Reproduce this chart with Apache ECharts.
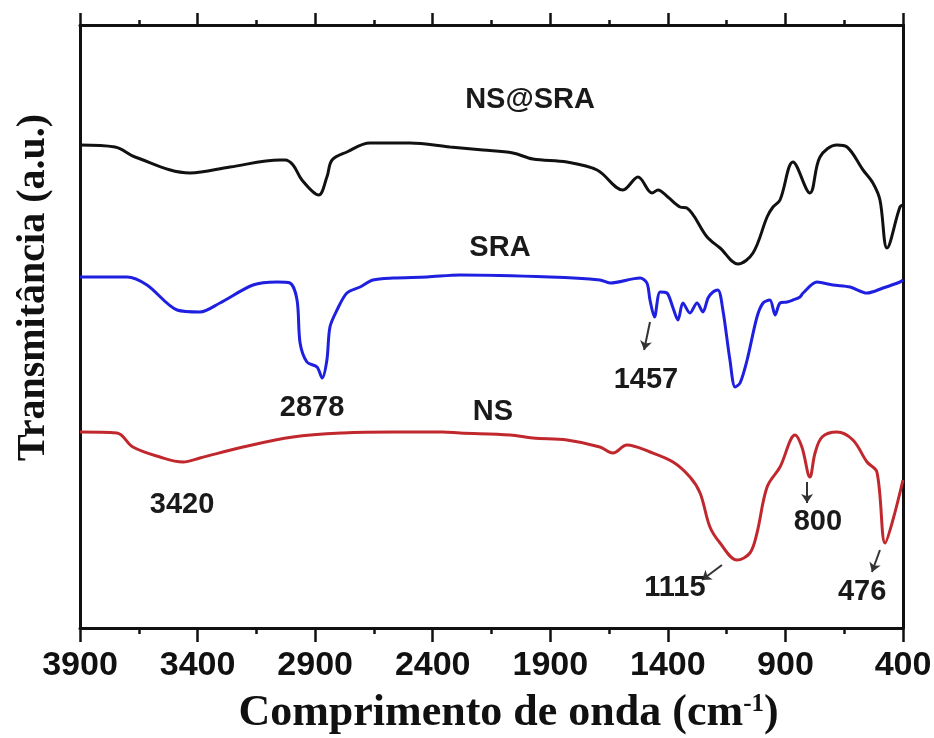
<!DOCTYPE html>
<html>
<head>
<meta charset="utf-8">
<script src="https://cdn.jsdelivr.net/npm/echarts@6/dist/echarts.min.js"></script>
<style>
  html, body { margin: 0; padding: 0; background: #fff; }
  #ftir { width: 934px; height: 738px; }
</style>
</head>
<body>
<div id="ftir"></div>
<script>
// espectros FTIR: [numero de onda (cm-1), transmitancia (u.a., deslocada)]
var nsSra = [
  [3900, 48.3], [3751, 48.1], [3666, 47.1], [3432, 45.5], [3262, 46.1], [3049, 46.8],
  [3028, 46.8], [2994, 46.3], [2956, 44.8], [2885, 43.3], [2850, 45.1], [2828, 46.8],
  [2765, 47.6], [2667, 48.5], [2497, 48.5], [2326, 48.1], [2186, 47.8], [2059, 47.5],
  [1974, 46.9], [1829, 46.6], [1701, 45.8], [1591, 43.8], [1527, 45.1], [1467, 43.5],
  [1442, 43.8], [1400, 43.1], [1348, 42.1], [1319, 42.0], [1233, 39.1], [1178, 38.0],
  [1102, 36.4], [1038, 37.5], [978, 41.1], [953, 42.1], [923, 42.8], [868, 46.6],
  [796, 43.5], [753, 47.1], [681, 48.3], [638, 48.1], [570, 45.8], [528, 44.5],
  [498, 42.8], [468, 38.0], [413, 42.1], [400, 42.3]
];
var sra = [
  [3900, 35.1], [3700, 35.1], [3615, 34.3], [3487, 31.8], [3390, 31.6], [3305, 32.5],
  [3164, 34.3], [3062, 34.6], [3007, 34.5], [2977, 32.8], [2964, 28.5], [2935, 26.6],
  [2892, 26.1], [2870, 25.0], [2850, 26.8], [2837, 30.1], [2807, 31.8], [2765, 33.5],
  [2709, 34.1], [2654, 34.8], [2569, 35.0], [2424, 35.1], [2284, 35.3], [1901, 35.1],
  [1689, 34.8], [1646, 34.5], [1518, 35.0], [1489, 34.5], [1476, 32.8], [1457, 31.1],
  [1433, 33.6], [1404, 33.5], [1378, 32.0], [1357, 30.8], [1336, 32.5], [1306, 31.5],
  [1276, 32.5], [1251, 31.6], [1229, 33.0], [1208, 33.6], [1187, 33.8], [1166, 31.8],
  [1136, 26.8], [1114, 24.1], [1093, 24.5], [1063, 26.8], [1021, 31.1], [995, 32.5],
  [966, 32.8], [944, 31.3], [923, 32.5], [893, 32.6], [868, 32.8], [838, 33.1],
  [825, 33.5], [766, 34.6], [698, 34.3], [625, 34.1], [553, 33.5], [485, 34.0],
  [413, 34.6], [400, 34.8]
];
var ns = [
  [3900, 19.6], [3743, 19.5], [3675, 18.1], [3560, 17.1], [3462, 16.6], [3390, 17.0],
  [3207, 18.1], [2994, 19.1], [2782, 19.5], [2569, 19.6], [2356, 19.6], [2284, 19.5],
  [2071, 19.3], [1974, 19.0], [1829, 18.8], [1689, 18.1], [1634, 17.5], [1574, 18.3],
  [1476, 17.6], [1378, 16.6], [1306, 15.1], [1263, 13.5], [1221, 10.1], [1178, 8.5],
  [1106, 6.8], [1051, 7.5], [1021, 9.5], [978, 14.1], [923, 16.1], [859, 19.3],
  [830, 18.1], [796, 15.1], [774, 17.5], [744, 19.1], [681, 19.6], [613, 18.8],
  [553, 16.6], [511, 15.6], [476, 8.5], [443, 10.8], [400, 14.8]
];

// nomes das curvas e picos assinalados
var curveNames = ['NS@SRA', 'SRA', 'NS'];
var curveLabels = [
  { text: 'NS@SRA', at: [1986, 52.8] },
  { text: 'SRA', at: [2114, 38.0] },
  { text: 'NS', at: [2144, 21.6] }
];
var peakLabels = [
  { text: '2878', at: [2913, 22.0] },
  { text: '1457', at: [1493, 24.8] },
  { text: '3420', at: [3466, 12.3] },
  { text: '1115', at: [1370, 4.0] },
  { text: '800', at: [762, 10.6] },
  { text: '476', at: [574, 3.6] }
];
var peakArrows = [
  [[1476, 30.6], [1501, 27.8]],
  [[1170, 6.3], [1255, 4.8]],
  [[808, 14.6], [808, 12.5]],
  [[498, 7.8], [532, 5.6]]
];
var xTicks = [3900, 3400, 2900, 2400, 1900, 1400, 900, 400];

function initFtir() {
  var chart = echarts.init(document.getElementById('ftir'));

  var textLabels = curveLabels.concat(peakLabels).map(function (p) {
    return { coord: p.at, value: p.text };
  });

  var option = {
    animation: false,
    backgroundColor: '#fff',
    grid: { left: 80, right: 31, top: 25, bottom: 110, containLabel: false, outerBoundsMode: 'none' },
    xAxis: [
      {
        type: 'value', min: 400, max: 3900, interval: 500, inverse: true,
        name: 'Comprimento de onda (cm{sup|-1})',
        nameLocation: 'middle', nameGap: 64,
        nameTextStyle: {
          fontFamily: 'Liberation Serif', fontWeight: 'bold', fontSize: 44, color: '#111',
          padding: [0, 0, 0, 34],
          rich: { sup: { fontFamily: 'Liberation Serif', fontWeight: 'bold', fontSize: 25, color: '#111', verticalAlign: 'top', padding: [0, 0, 19, 0] } }
        },
        axisLine: { onZero: false, lineStyle: { color: '#111', width: 3 } },
        axisTick: { show: true, inside: false, length: 14, lineStyle: { color: '#111', width: 2.5 } },
        minorTick: { show: true, splitNumber: 2, length: 6, lineStyle: { color: '#111', width: 2.5 } },
        axisLabel: {
          margin: 21, fontFamily: 'Liberation Sans', fontWeight: 'bold', fontSize: 34, color: '#111',
          formatter: function (v) { return xTicks.indexOf(v) >= 0 ? String(v) : ''; }
        },
        splitLine: { show: false }
      },
      {
        type: 'value', position: 'top', min: 400, max: 3900, interval: 500, inverse: true,
        axisLine: { onZero: false, lineStyle: { color: '#111', width: 3 } },
        axisTick: { show: true, inside: false, length: 12, lineStyle: { color: '#111', width: 2.5 } },
        minorTick: { show: true, splitNumber: 2, length: 5, lineStyle: { color: '#111', width: 2.5 } },
        axisLabel: { show: false },
        splitLine: { show: false }
      }
    ],
    yAxis: [
      {
        type: 'value', min: 0, max: 60.3,
        name: 'Transmitância (a.u.)',
        nameLocation: 'middle', nameGap: 26,
        nameTextStyle: {
          fontFamily: 'Liberation Serif', fontWeight: 'bold', fontSize: 40, color: '#111',
          padding: [0, 0, 0, 78]
        },
        axisLine: { show: true, onZero: false, lineStyle: { color: '#111', width: 3 } },
        axisTick: { show: false }, axisLabel: { show: false }, splitLine: { show: false }
      },
      {
        type: 'value', min: 0, max: 60.3, position: 'right',
        axisLine: { show: true, onZero: false, lineStyle: { color: '#111', width: 3 } },
        axisTick: { show: false }, axisLabel: { show: false }, splitLine: { show: false }
      }
    ],
    series: [
      {
        name: curveNames[0], type: 'line', data: nsSra, showSymbol: false, smooth: 0.35,
        lineStyle: { color: '#111', width: 3 }, z: 3,
        markPoint: {
          symbol: 'circle', symbolSize: 0, silent: true,
          label: {
            show: true, position: 'inside', formatter: '{c}',
            fontFamily: 'Liberation Sans', fontWeight: 'bold', fontSize: 29, color: '#1a1a1a'
          },
          data: textLabels
        }
      },
      {
        name: curveNames[1], type: 'line', data: sra, showSymbol: false, smooth: 0.3,
        lineStyle: { color: '#1f1fe0', width: 3 }, z: 3
      },
      {
        name: curveNames[2], type: 'line', data: ns, showSymbol: false, smooth: 0.35,
        lineStyle: { color: '#c0282e', width: 3 }, z: 3,
        markLine: {
          silent: true, symbol: ['none', 'arrow'], symbolSize: 9,
          lineStyle: { color: '#333', width: 2, type: 'solid' },
          label: { show: false },
          data: peakArrows.map(function (a) {
            return [{ coord: a[0] }, { coord: a[1] }];
          })
        }
      }
    ]
  };
  chart.setOption(option);
}

document.addEventListener('DOMContentLoaded', function () {
  initFtir();
});
</script>
</body>
</html>
